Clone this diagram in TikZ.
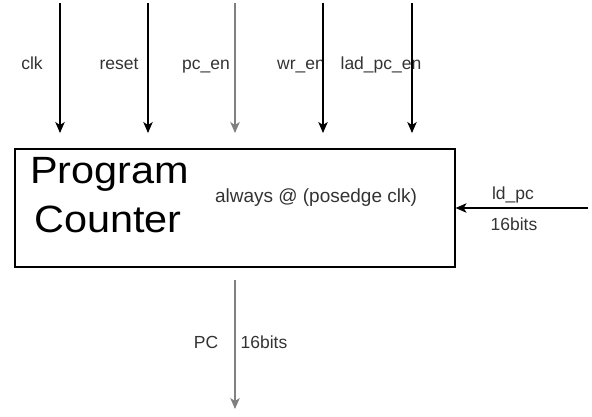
\documentclass[tikz,border=0pt]{standalone}
\usepackage{fontspec}
\setmainfont{Liberation Sans}
\newfontfamily\widefont{Liberation Sans}[FakeStretch=1.09]
\usetikzlibrary{arrows.meta, positioning}

\begin{document}
\begin{tikzpicture}[x=1pt, y=-1pt,
  sig/.style={line width=1.3pt, -{Stealth[length=11pt, width=9.5pt, inset=3pt]}},
  lbl/.style={font=\fontsize{17.5}{21}\selectfont, text=black!80, inner sep=0pt, anchor=base},
  big/.style={font=\widefont\fontsize{38}{46}\selectfont, inner sep=0pt, anchor=base west}]
  \useasboundingbox (0,0) rectangle (592,417);

  % the counter block
  \node[draw, line width=1.2pt, minimum width=440pt, minimum height=118pt, inner sep=0pt] (pc) at (235,208) {};
  \node[big] (name1) at (30,184) {Program};
  \node[big] (name2) at (34,232) {Counter};
  \node[lbl, font=\fontsize{19}{22}\selectfont] (rule) at (316,203) {always @ (posedge clk)};

  % control inputs
  \foreach \x/\id/\txt/\tx/\col in {60/clk/clk/32/black, 148/rst/reset/119/black,
      235/en/pc\_en/206/gray, 323/wr/wr\_en/301/black, 412/lad/lad\_pc\_en/381/black} {
    \coordinate (\id-s) at (\x,3);
    \coordinate (\id-e) at (\x,133);
    \node[lbl] (\id-l) at (\tx,70) {\txt};
    \draw[sig, \col] (\id-s) -- (\id-e);
  }

  % load value
  \coordinate (ld-s) at (588,208);
  \draw[sig] (ld-s) -- (pc.east);
  \node[lbl] (ld-l) at (513,200) {ld\_pc};
  \node[lbl] (ld-w) at (514,230) {16bits};

  % output
  \coordinate (out-s) at (235,280);
  \coordinate (out-e) at (235,409);
  \draw[sig, gray] (out-s) -- (out-e);
  \node[lbl] (out-l) at (206,348) {PC};
  \node[lbl] (out-w) at (264,348) {16bits};
\end{tikzpicture}
\end{document}
